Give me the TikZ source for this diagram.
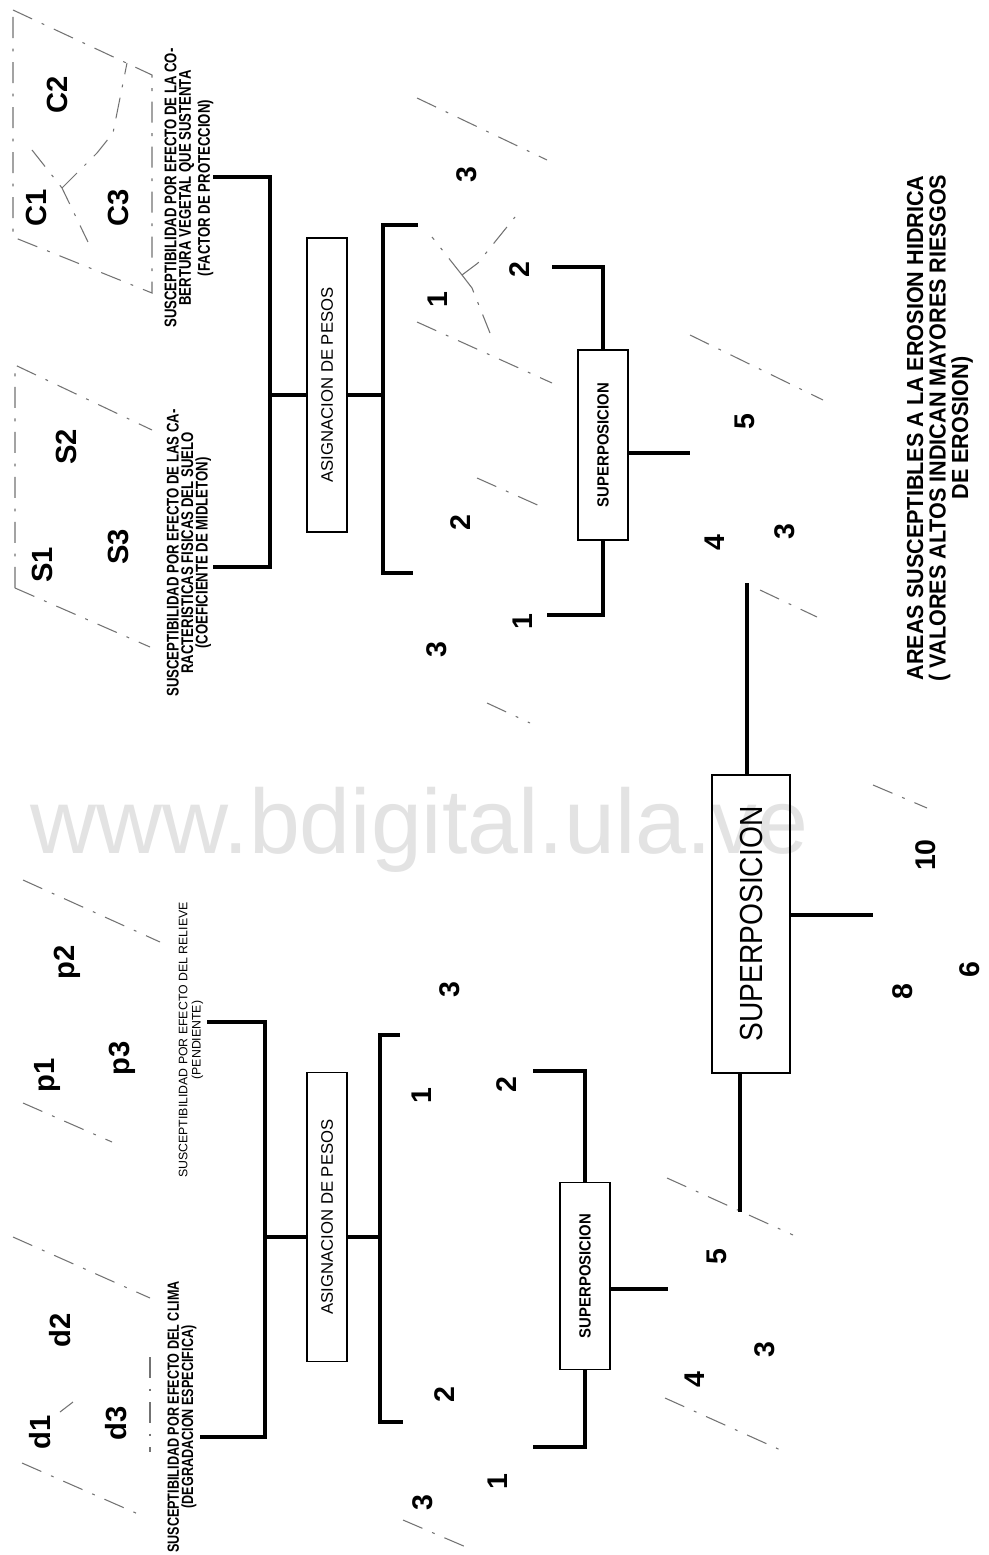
\documentclass[tikz,border=0pt]{standalone}
\usepackage{graphicx}
\usepackage{fontspec}
\setmainfont{Liberation Sans}
\newfontfamily\condA[FakeStretch=0.78]{Liberation Sans}
\newfontfamily\condB[FakeStretch=0.93]{Liberation Sans}
\newfontfamily\condC[FakeStretch=0.88]{Liberation Sans}
\newfontfamily\condD[FakeStretch=0.92]{Liberation Sans}
\begin{document}
\begin{tikzpicture}[x=0.01cm,y=-0.01cm,
  thk/.style={line width=1.35pt, line join=miter},
  med/.style={line width=1.0pt},
  boxnode/.style={draw, line width=0.45pt, inner sep=0pt},
  mapline/.style={draw=black!55, line width=0.3pt, dash pattern=on 6pt off 3pt on 0.8pt off 3pt},
  reg/.style={rotate=90, inner sep=0pt, font=\bfseries\fontsize{8.3}{10}\selectfont},
  num/.style={rotate=90, inner sep=0pt, font=\bfseries\fontsize{8.1}{10}\selectfont},
  captext/.style={rotate=90, inner sep=0pt, align=center},
  wm/.style={text=black!11, inner sep=0pt, font=\fontsize{26}{30}\selectfont}
]
\useasboundingbox (0,0) rectangle (988,1555);
\fill[white] (0,0) rectangle (988,1555);

% watermark
\node[wm, anchor=base west] (wm) at (30,853) {www.bdigital.ula.ve};

% ---------- map outlines (dashed) ----------
\draw[mapline] (13,10) -- (152,75) -- (152,293) -- (13,237) -- cycle;
\draw[mapline] (32,150) -- (62,188) -- (88,242);
\draw[mapline] (62,188) -- (97,153) -- (113,133) -- (127,63);
\draw[mapline] (15,588) -- (15,365) -- (152,430);
\draw[mapline] (15,588) -- (150,647);
\draw[mapline] (23,880) -- (160,942);
\draw[mapline] (23,1103) -- (112,1142);
\draw[mapline] (13,1237) -- (150,1298);
\draw[mapline] (150,1357) -- (150,1452);
\draw[mapline] (22,1463) -- (145,1517);
\draw[mapline] (60,1412) -- (73,1402);
\draw[mapline] (417,98) -- (547,160);
\draw[mapline] (462,275) -- (432,237);
\draw[mapline] (462,275) -- (478,263) -- (490,248) -- (515,217);
\draw[mapline] (462,275) -- (472,288) -- (490,333);
\draw[mapline] (417,322) -- (552,383);
\draw[mapline] (690,335) -- (823,400);
\draw[mapline] (477,478) -- (542,507);
\draw[mapline] (760,590) -- (817,617);
\draw[mapline] (487,703) -- (530,723);
\draw[mapline] (873,785) -- (927,808);
\draw[mapline] (403,1520) -- (473,1550);
\draw[mapline] (665,1398) -- (785,1452);
\draw[mapline] (667,1178) -- (793,1235);

% ---------- region labels ----------
\node[reg] (C1) at (36,208) {C1};
\node[reg] (C2) at (57,95) {C2};
\node[reg] (C3) at (118,208) {C3};
\node[reg] (S1) at (42,565) {S1};
\node[reg] (S2) at (66,447) {S2};
\node[reg] (S3) at (118,547) {S3};
\node[reg] (p1) at (47,1075) {p1};
\node[reg] (p2) at (67,962) {p2};
\node[reg] (p3) at (122,1058) {p3};
\node[reg] (d1) at (40,1432) {d1};
\node[reg] (d2) at (60,1330) {d2};
\node[reg] (d3) at (116,1423) {d3};

% ---------- captions ----------
\node[captext, font=\condA\bfseries\fontsize{4.8}{4.1}\selectfont] (capC) at (189,188)
  {SUSCEPTIBILIDAD POR EFECTO DE LA CO-\\BERTURA VEGETAL QUE SUSTENTA\\(FACTOR DE PROTECCION)};
\node[captext, font=\condA\bfseries\fontsize{4.8}{4.1}\selectfont] (capS) at (189,553)
  {SUSCEPTIBILIDAD POR EFECTO DE LAS CA-\\RACTERISTICAS FISICAS DEL SUELO\\(COEFICIENTE DE MIDLETON)};
\node[captext, font=\fontsize{3.5}{3.8}\selectfont] (capP) at (191,1040)
  {SUSCEPTIBILIDAD POR EFECTO DEL RELIEVE\\(PENDIENTE)};
\node[captext, font=\condA\bfseries\fontsize{4.6}{4.0}\selectfont] (capD) at (182,1417)
  {SUSCEPTIBILIDAD POR EFECTO DEL CLIMA\\(DEGRADACION ESPECIFICA)};
\node[captext, font=\condB\bfseries\fontsize{6.6}{6.4}\selectfont] (capR) at (940,428)
  {AREAS SUSCEPTIBLES A LA EROSION HIDRICA\\( VALORES ALTOS INDICAN MAYORES RIESGOS\\DE EROSION)};

% ---------- boxes ----------
\node[boxnode, minimum width=0.40cm, minimum height=2.94cm] (A1) at (327,385)
  {\rotatebox{90}{\fontsize{4.75}{5}\selectfont ASIGNACION DE PESOS}};
\node[boxnode, minimum width=0.40cm, minimum height=2.89cm] (A2) at (327,1217)
  {\rotatebox{90}{\fontsize{4.75}{5}\selectfont ASIGNACION DE PESOS}};
\node[boxnode, minimum width=0.50cm, minimum height=1.90cm] (Sb1) at (603,445)
  {\rotatebox{90}{\condD\bfseries\fontsize{4.6}{5}\selectfont SUPERPOSICION}};
\node[boxnode, minimum width=0.50cm, minimum height=1.87cm] (Sb2) at (585,1276)
  {\rotatebox{90}{\condD\bfseries\fontsize{4.6}{5}\selectfont SUPERPOSICION}};
\node[boxnode, line width=0.6pt, minimum width=0.78cm, minimum height=2.98cm] (B) at (751,924)
  {\rotatebox{90}{\condC\fontsize{9.1}{10}\selectfont SUPERPOSICION}};

% ---------- numbers ----------
\node[num] (u3a) at (467,175) {3};
\node[num] (u1a) at (438,300) {1};
\node[num] (u2a) at (461,523) {2};
\node[num] (u3b) at (437,650) {3};
\node[num] (u2b) at (520,270) {2};
\node[num] (u1b) at (523,622) {1};
\node[num] (u5) at (745,422) {5};
\node[num] (u4) at (715,543) {4};
\node[num] (u3c) at (785,532) {3};
\node[num] (g10) at (926,855) {10};
\node[num] (g8) at (903,992) {8};
\node[num] (g6) at (970,970) {6};
\node[num] (l3a) at (450,990) {3};
\node[num] (l1a) at (422,1096) {1};
\node[num] (l2a) at (445,1395) {2};
\node[num] (l3b) at (423,1503) {3};
\node[num] (l1b) at (498,1482) {1};
\node[num] (l2b) at (507,1085) {2};
\node[num] (l5) at (717,1257) {5};
\node[num] (l4) at (695,1380) {4};
\node[num] (l3c) at (765,1350) {3};

% ---------- upper bracket ----------
\coordinate (tC) at (213,177);
\coordinate (tS) at (213,567);
\coordinate (J1) at (270,395);
\draw[thk] (tC) -- (tC -| J1) -- (tS -| J1) -- (tS);
\draw[thk] (J1) -- (J1 -| A1.west);
\coordinate (R1) at (383,395);
\draw[thk] (A1.east |- J1) -- (R1);
\coordinate (r1a) at (418,225);
\coordinate (r1b) at (413,573);
\draw[thk] (r1a) -- (r1a -| R1) -- (r1b -| R1) -- (r1b);

% upper superposition
\coordinate (k2) at (552,267);
\coordinate (k1) at (547,615);
\draw[thk] (k2) -| (Sb1.north);
\draw[thk] (Sb1.south) |- (k1);
\coordinate (o1) at (690,453);
\draw[thk] (Sb1.east |- o1) -- (o1);

% big superposition
\coordinate (bt) at (747,583);
\draw[med] (bt) -- (bt |- B.north);
\coordinate (bb) at (740,1212);
\draw[med] (bb |- B.south) -- (bb);
\coordinate (bo) at (873,915);
\draw[med] (B.east |- bo) -- (bo);

% ---------- lower bracket ----------
\coordinate (tP) at (207,1022);
\coordinate (tD) at (200,1437);
\coordinate (J2) at (265,1237);
\draw[thk] (tP) -- (tP -| J2) -- (tD -| J2) -- (tD);
\draw[thk] (J2) -- (J2 -| A2.west);
\coordinate (R2) at (380,1237);
\draw[thk] (A2.east |- J2) -- (R2);
\coordinate (r2a) at (400,1035);
\coordinate (r2b) at (403,1422);
\draw[thk] (r2a) -- (r2a -| R2) -- (r2b -| R2) -- (r2b);

% lower superposition
\coordinate (m2) at (533,1071);
\coordinate (m1) at (533,1447);
\draw[thk] (m2) -| (Sb2.north);
\draw[thk] (Sb2.south) |- (m1);
\coordinate (o2) at (668,1289);
\draw[thk] (Sb2.east |- o2) -- (o2);
\end{tikzpicture}
\end{document}
